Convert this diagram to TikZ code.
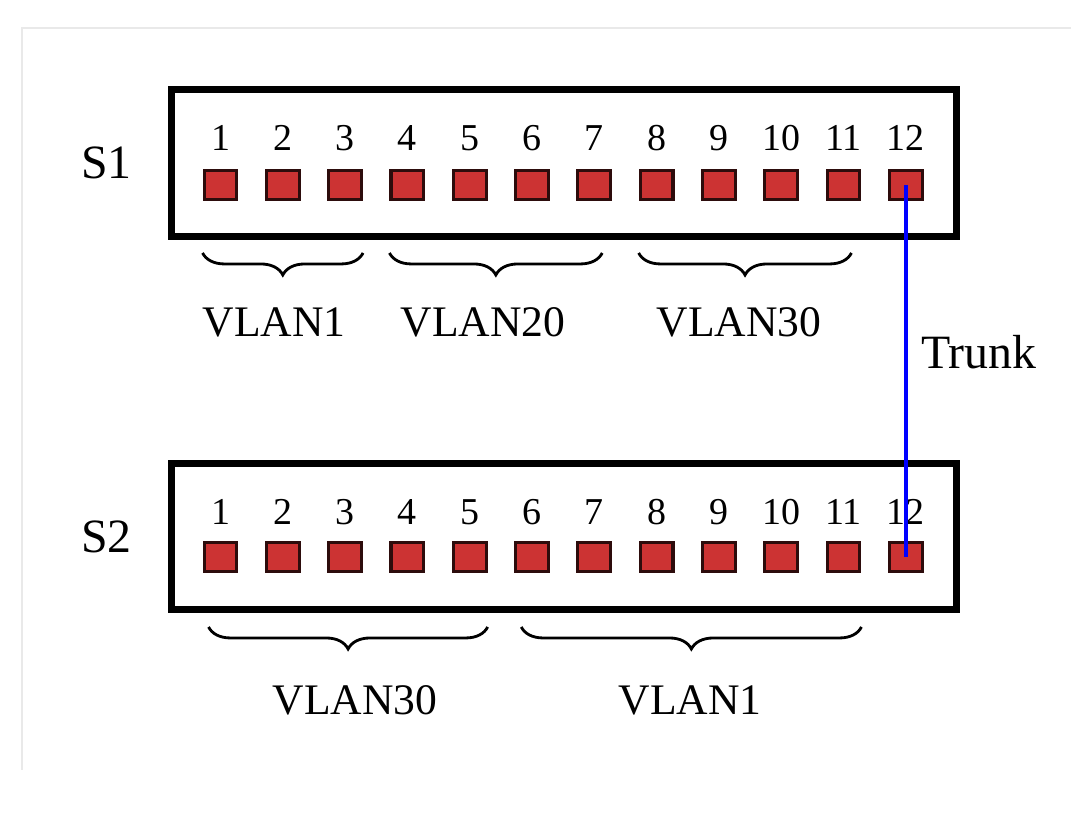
\documentclass[tikz,border=0pt]{standalone}
\usepackage{fontspec}
\setmainfont{Liberation Serif}
\usetikzlibrary{positioning,decorations.pathreplacing}
\definecolor{portred}{RGB}{204,51,51}
\definecolor{portedge}{RGB}{45,12,12}
\definecolor{framegray}{RGB}{233,233,233}

\begin{document}
\begin{tikzpicture}[x=0.025cm, y=-0.025cm]
\tikzstyle{switchbox} = [rectangle, draw=black, line width=5pt, minimum width=19.62cm, minimum height=3.67cm, inner sep=0pt]
\tikzstyle{port}      = [rectangle, fill=portred, draw=portedge, line width=2.2pt, minimum width=0.82cm, minimum height=0.72cm, inner sep=0pt]
\tikzstyle{portnum}   = [font=\fontsize{27}{27}\selectfont, inner sep=0pt]
\tikzstyle{swname}    = [font=\fontsize{34}{34}\selectfont, inner sep=0pt]
\tikzstyle{vlan}      = [font=\fontsize{31}{31}\selectfont, inner sep=0pt]
\tikzstyle{vbrace}    = [decorate, decoration={brace, mirror, amplitude=0.55cm}, line width=2pt]
\tikzstyle{trunk}     = [draw=blue, line width=2.8pt]

\useasboundingbox (0,0) rectangle (1071,820);
% faint frame of the original page
\draw [framegray, line width=2pt] (22,770) -- (22,28) -- (1071,28);

% switches
\node (s1) [switchbox] at (564,163) {};
\node (s2) [switchbox] at (564,536.5) {};
\node (s1name) [swname, left=0.9cm of s1] {S1};
\node (s2name) [swname, left=0.9cm of s2] {S2};

% ports and their numbers
\foreach \i in {1,...,12} {
  \node (s1p\i) [port] at ({220.5+62.3*(\i-1)},185) {};
  \node (s1n\i) [portnum] at ({220.5+62.3*(\i-1)},138) {\i};
  \node (s2p\i) [port] at ({220.5+62.3*(\i-1)},557) {};
  \node (s2n\i) [portnum] at ({220.5+62.3*(\i-1)},512) {\i};
}

% vlan groups on S1
\draw [vbrace] ([yshift=-1.3cm]s1p1.south west) -- ([yshift=-1.3cm]s1p3.south east);
\draw [vbrace] ([yshift=-1.3cm]s1p4.south west) -- ([xshift=-0.25cm,yshift=-1.3cm]s1p7.south east);
\draw [vbrace] ([yshift=-1.3cm]s1p8.south west) -- ([xshift=-0.25cm,yshift=-1.3cm]s1p11.south east);
\node (v1a)  [vlan] at (274,322) {VLAN1};
\node (v20a) [vlan] at (483,322) {VLAN20};
\node (v30a) [vlan] at (739,322) {VLAN30};

% vlan groups on S2
\draw [vbrace] ([xshift=0.15cm,yshift=-1.35cm]s2p1.south west) -- ([yshift=-1.35cm]s2p5.south east);
\draw [vbrace] ([xshift=0.18cm,yshift=-1.35cm]s2p6.south west) -- ([yshift=-1.35cm]s2p11.south east);
\node (v30b) [vlan] at (355,700) {VLAN30};
\node (v1b)  [vlan] at (690,700) {VLAN1};

% trunk link
\draw [trunk] (s1p12.center) -- (s2p12.center);
\node (trunklbl) [vlan, font=\fontsize{34}{34}\selectfont] at (979,352) {Trunk};
\end{tikzpicture}
\end{document}
